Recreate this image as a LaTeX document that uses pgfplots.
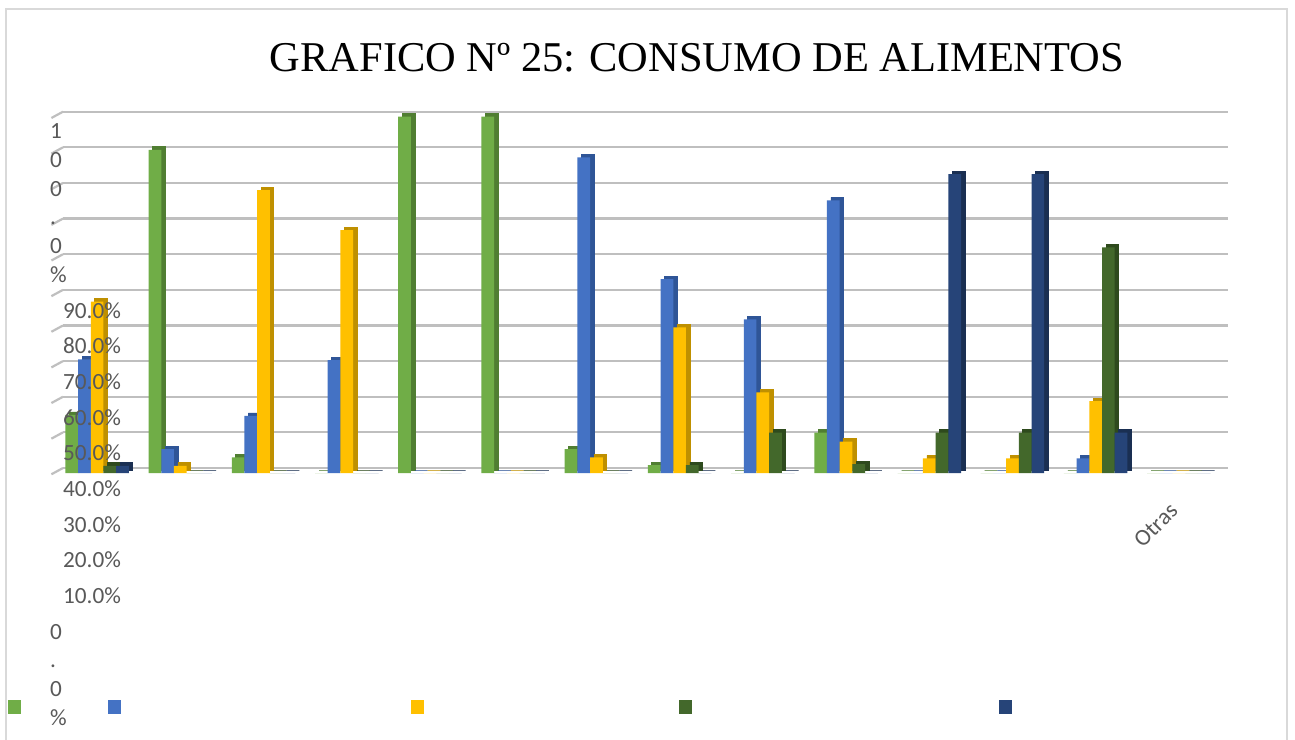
\documentclass[border=0pt]{standalone}
\usepackage{fontspec}
\setmainfont{Carlito}
\newfontfamily\titlefont{Liberation Serif}
\usepackage{pgfplots}
\usepackage{pgfplotstable}
\pgfplotsset{compat=1.18}

\definecolor{cGreen}{HTML}{70AD47}\definecolor{sGreen}{HTML}{507E32}
\definecolor{cBlue}{HTML}{4472C4}\definecolor{sBlue}{HTML}{2F5597}
\definecolor{cYellow}{HTML}{FFC000}\definecolor{sYellow}{HTML}{BF9000}
\definecolor{cDark}{HTML}{43682B}\definecolor{sDark}{HTML}{2E4A1D}
\definecolor{cNavy}{HTML}{264478}\definecolor{sNavy}{HTML}{1A2F52}
\definecolor{gridGray}{HTML}{BFBFBF}
\definecolor{frameGray}{HTML}{D9D9D9}
\definecolor{labelGray}{HTML}{595959}

% porcentaje de consumo por alimento (una columna por categoria de respuesta)
\pgfplotstableread{
cat  g     b     y     dg    n
0    16.3  31.9  48.1  2.0   2.0
1    90.7  6.7   2.0   0     0
2    4.4   16.0  79.4  0     0
3    0     31.7  68.2  0     0
4    100   0     0     0     0
5    100   0     0     0     0
6    6.7   88.6  4.4   0     0
7    2.2   54.4  40.9  2.2   0
8    0     43.1  22.6  11.3  0
9    11.3  76.5  8.8   2.5   0
10   0     0     4.1   11.3  83.9
11   0     0     4.1   11.3  83.9
12   0     4.1   20.2  63.3  11.3
13   0     0     0     0     0
}\consumo

\newcommand\stackup{\begin{tabular}[b]{@{}l@{}}1\\0\\0\\.\\0\\\%\end{tabular}}
\newcommand\stackdown{\begin{tabular}[t]{@{}l@{}}0\\.\\0\\\%\end{tabular}}
\newcommand\lbl[1]{\hspace*{13bp}#1}

\pgfplotsset{
  frame/.style={
    at={(63bp,272bp)}, anchor=south west,
    scale only axis, width=1165bp, height=356.3bp,
    xmin=-0.41, xmax=13.59, ymin=0, ymax=100,
    clip=false, axis line style={draw=none}, major tick length=0pt},
  front/.style={ybar, bar width=0.1526, bar shift=#1, draw=none, yshift=-5bp},
  side/.style={ybar, bar width=0.1526, bar shift=#1, line width=0.8bp, xshift=4bp, yshift=-2bp, forget plot},
}

\begin{document}
\begin{tikzpicture}
\useasboundingbox (0,0) rectangle (1295bp,740bp);
\fill[white] (0,0) rectangle (1295bp,740bp);
\draw[frameGray, line width=2bp] (6bp,-5bp) -- (6bp,731bp) -- (1287bp,731bp) -- (1287bp,-5bp);
\node[font=\titlefont\fontsize{42.6}{50}\selectfont, anchor=base] at (697bp,668bp)
  {GRAFICO Nº 25: CONSUMO DE ALIMENTOS};

% grid, bars and legend
\begin{axis}[
  frame,
  ymajorgrids,
  major grid style={draw=gridGray, line width=2.2bp},
  ytick={0,10,...,100}, yticklabels={},
  xtick={0,...,13},
  xticklabels={,,,,,,,,,,,,,Otras},
  xticklabel style={xshift=-5bp, yshift=-39bp, rotate=45, anchor=east, inner sep=0pt,
    text=labelGray, font=\fontsize{23.3}{28}\selectfont},
  legend columns=5,
  legend style={at={(axis description cs:-0.0472,-0.6694)}, anchor=west,
    draw=none, fill=none, inner sep=0pt, outer sep=0pt,
    nodes={inner sep=0pt, outer sep=0pt},
    /tikz/every even column/.append style={column sep=0pt},
    /tikz/every odd column/.append style={column sep=0pt}},
]
\addplot[side=-0.3052, fill=sGreen, draw=sGreen] table[x=cat,y=g]{\consumo};
\addplot[front=-0.3052, fill=cGreen,
  legend image code/.code={\fill[cGreen] (0bp,-7bp) rectangle (13bp,7bp);}] table[x=cat,y=g]{\consumo};
\addlegendentry{\hspace*{87bp}}
\addplot[side=-0.1526, fill=sBlue, draw=sBlue] table[x=cat,y=b]{\consumo};
\addplot[front=-0.1526, fill=cBlue,
  legend image code/.code={\fill[cBlue] (0bp,-7bp) rectangle (13bp,7bp);}] table[x=cat,y=b]{\consumo};
\addlegendentry{\hspace*{290bp}}
\addplot[side=0, fill=sYellow, draw=sYellow] table[x=cat,y=y]{\consumo};
\addplot[front=0, fill=cYellow,
  legend image code/.code={\fill[cYellow] (0bp,-7bp) rectangle (13bp,7bp);}] table[x=cat,y=y]{\consumo};
\addlegendentry{\hspace*{255bp}}
\addplot[side=0.1526, fill=sDark, draw=sDark] table[x=cat,y=dg]{\consumo};
\addplot[front=0.1526, fill=cDark,
  legend image code/.code={\fill[cDark] (0bp,-7bp) rectangle (13bp,7bp);}] table[x=cat,y=dg]{\consumo};
\addlegendentry{\hspace*{307bp}}
\addplot[side=0.3052, fill=sNavy, draw=sNavy] table[x=cat,y=n]{\consumo};
\addplot[front=0.3052, fill=cNavy,
  legend image code/.code={\fill[cNavy] (0bp,-7bp) rectangle (13bp,7bp);}] table[x=cat,y=n]{\consumo};
\addlegendentry{\hspace*{10bp}}
% tramo inclinado del piso en cada linea de la cuadricula
\pgfplotsinvokeforeach{0,10,...,100}{
  \draw[gridGray, line width=2.2bp] (axis cs:-0.41,#1) -- ++(-11.6bp,-6.3bp);
}
\end{axis}

% percentage labels, set over the bars
\begin{axis}[
  frame,
  xtick=\empty,
  ytick={0,10,...,100},
  yticklabels={\stackdown,\lbl{10.0\%},\lbl{20.0\%},\lbl{30.0\%},\lbl{40.0\%},
    \lbl{50.0\%},\lbl{60.0\%},\lbl{70.0\%},\lbl{80.0\%},\lbl{90.0\%},\stackup},
  yticklabel style={anchor=base west, inner sep=0pt, xshift=-13bp, yshift=-171bp,
    text=labelGray, font=\fontsize{23.3}{29}\selectfont},
]
\end{axis}
\end{tikzpicture}
\end{document}
